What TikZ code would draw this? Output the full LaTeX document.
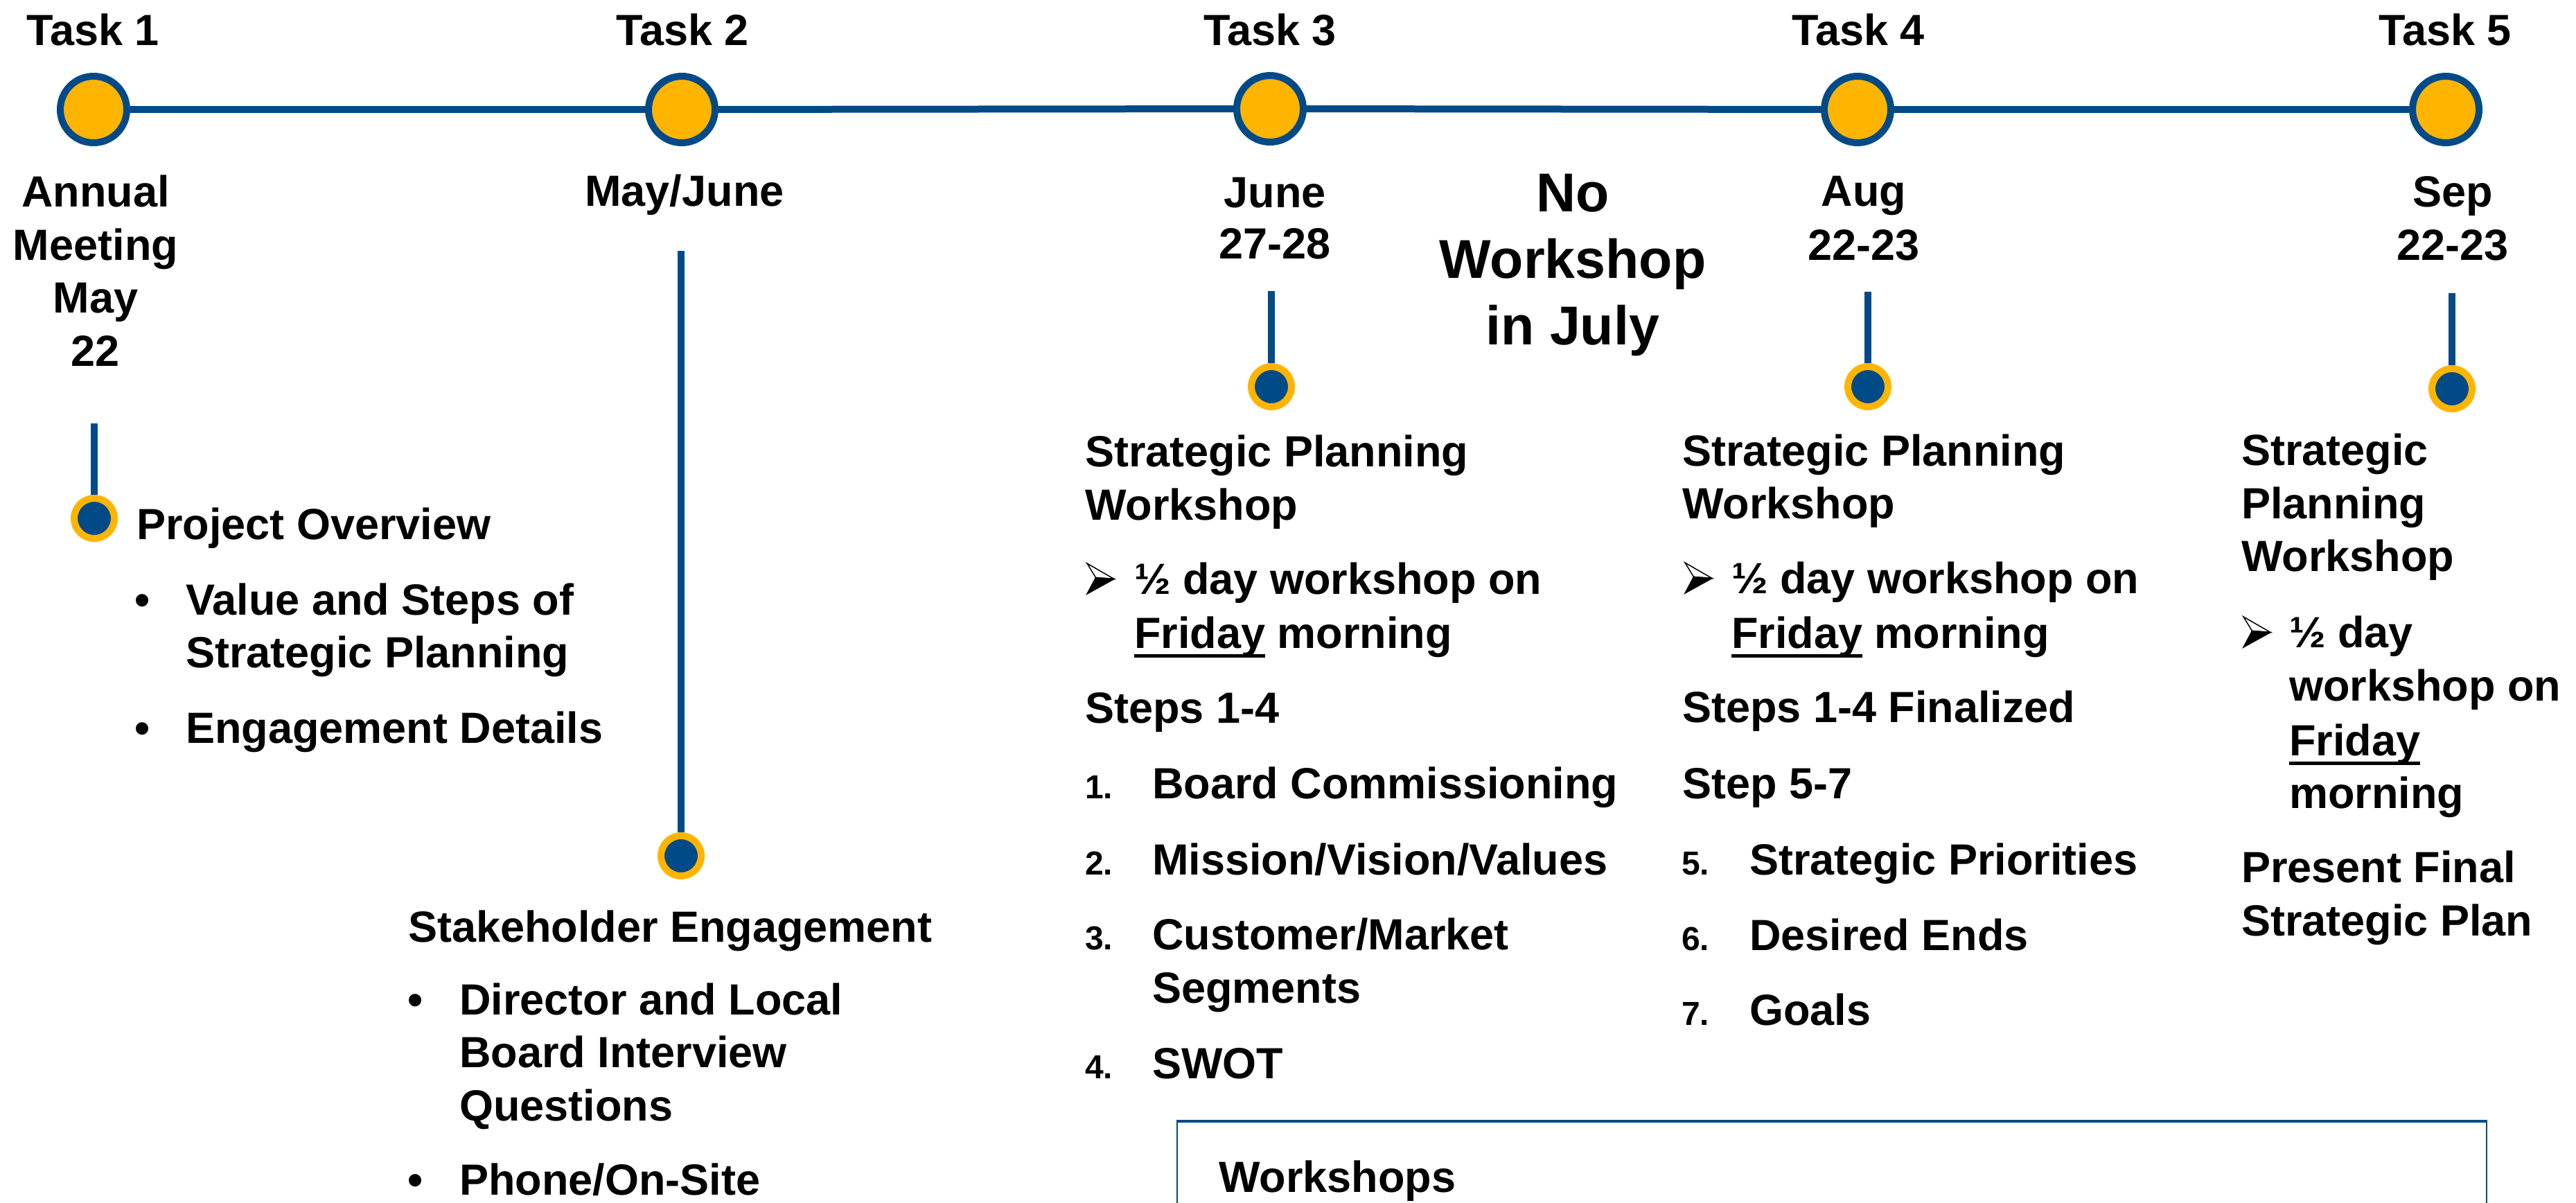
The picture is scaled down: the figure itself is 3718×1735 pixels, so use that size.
\documentclass[tikz,border=0pt]{standalone}
\usepackage{fontspec}
\setmainfont{Liberation Sans}
\definecolor{tlblue}{RGB}{0,74,135}
\definecolor{tlgold}{RGB}{255,181,0}
\newcommand\myul[1]{{\setbox0\hbox{#1}\rlap{\vrule width\wd0 height -9pt depth 14pt}\box0}}
\begin{document}
\begin{tikzpicture}[x=1pt,y=-1pt,
  txt/.style={anchor=base west, inner sep=0pt, font=\fontsize{63}{76}\selectfont\bfseries},
  ctxt/.style={anchor=base, inner sep=0pt, font=\fontsize{63}{76}\selectfont\bfseries},
  bigtxt/.style={anchor=base, inner sep=0pt, font=\fontsize{79}{96}\selectfont\bfseries},
  numtxt/.style={anchor=base west, inner sep=0pt, font=\fontsize{48}{58}\selectfont\bfseries},
  taskdot/.style={circle, draw=tlblue, fill=tlgold, line width=10pt, minimum size=96pt, inner sep=0pt},
  subdot/.style={circle, draw=tlgold, fill=tlblue, line width=10pt, minimum size=58pt, inner sep=0pt},
  tline/.style={draw=tlblue, line width=10pt},
  arrbullet/.pic={
    \filldraw[fill=white, draw=black, line width=1.5pt, line join=miter] (0,-44) -- (39,-21.5) -- (12.5,-23.5) -- cycle;
    \filldraw[fill=black, draw=black, line width=1.5pt, line join=miter] (12.5,-23.5) -- (39,-21.5) -- (0,0) -- cycle;
  },
]
\useasboundingbox (0,0) rectangle (3718,1735);
\clip (0,0) rectangle (3718,1735);

% main timeline
\node[taskdot] (t1) at (135,158) {};
\node[taskdot] (t2) at (984,158) {};
\node[taskdot] (t3) at (1833,157) {};
\node[taskdot] (t4) at (2681,158) {};
\node[taskdot] (t5) at (3530,158) {};
\draw[tline] (t1) -- (t2);
\draw[tline] (t2) -- (t3);
\draw[tline] (t3) -- (t4);
\draw[tline] (t4) -- (t5);

% task labels
\node[ctxt] (l1) at (134,65) {Task 1};
\node[ctxt] (l2) at (985,65) {Task 2};
\node[ctxt] (l3) at (1833,65) {Task 3};
\node[ctxt] (l4) at (2682,65) {Task 4};
\node[ctxt] (l5) at (3529,65) {Task 5};

% date labels
\node[ctxt] (d1a) at (138,298) {Annual};
\node[ctxt] (d1b) at (138,375) {Meeting};
\node[ctxt] (d1c) at (138,451) {May};
\node[ctxt] (d1d) at (138,528) {22};
\node[ctxt] (d2a) at (988,297) {May/June};
\node[ctxt] (d3a) at (1840,299) {June};
\node[ctxt] (d3b) at (1840,373) {27-28};
\node[ctxt] (d4a) at (2690,297) {Aug};
\node[ctxt] (d4b) at (2690,375) {22-23};
\node[ctxt] (d5a) at (3540,298) {Sep};
\node[ctxt] (d5b) at (3540,375) {22-23};

% no workshop
\node[bigtxt] (nw1) at (2270,305) {No};
\node[bigtxt] (nw2) at (2270,401) {Workshop};
\node[bigtxt] (nw3) at (2270,497) {in July};

% stems and sub dots
\coordinate (k1) at (136,611);
\coordinate (k2) at (983,362);
\coordinate (k3) at (1835,420);
\coordinate (k4) at (2696,421);
\coordinate (k5) at (3539,423);
\node[subdot] (s1) at (136,748) {};
\node[subdot] (s2) at (983,1235) {};
\node[subdot] (s3) at (1835,558) {};
\node[subdot] (s4) at (2696,558) {};
\node[subdot] (s5) at (3539,561) {};
\draw[tline] (k1) -- (s1);
\draw[tline] (k2) -- (s2);
\draw[tline] (k3) -- (s3);
\draw[tline] (k4) -- (s4);
\draw[tline] (k5) -- (s5);

% Task 1 text
\node[txt] (p1) at (197,778) {Project Overview};
\node[txt] (p1b1) at (194,887) {•};
\node[txt] (p1i1) at (268,887) {Value and Steps of};
\node[txt] (p1i1b) at (268,963) {Strategic Planning};
\node[txt] (p1b2) at (194,1072) {•};
\node[txt] (p1i2) at (268,1072) {Engagement Details};

% Task 2 text
\node[txt] (p2) at (589,1359) {Stakeholder Engagement};
\node[txt] (p2b1) at (588,1464) {•};
\node[txt] (p2i1) at (663,1464) {Director and Local};
\node[txt] (p2i1b) at (663,1540) {Board Interview};
\node[txt] (p2i1c) at (663,1617) {Questions};
\node[txt] (p2b2) at (588,1724) {•};
\node[txt] (p2i2) at (663,1724) {Phone/On-Site};

% Task 3 text
\node[txt] (p3a) at (1566,673) {Strategic Planning};
\node[txt] (p3b) at (1566,750) {Workshop};
\pic at (1569,857) {arrbullet};
\node[txt] (p3c) at (1637,857) {½ day workshop on};
\node[txt] (p3d) at (1637,935) {\myul{Friday} morning};
\node[txt] (p3e) at (1566,1043) {Steps 1-4};
\node[numtxt] (p3n1) at (1566,1152) {1.};
\node[txt] (p3i1) at (1663,1152) {Board Commissioning};
\node[numtxt] (p3n2) at (1566,1262) {2.};
\node[txt] (p3i2) at (1663,1262) {Mission/Vision/Values};
\node[numtxt] (p3n3) at (1566,1370) {3.};
\node[txt] (p3i3) at (1663,1370) {Customer/Market};
\node[txt] (p3i3b) at (1663,1447) {Segments};
\node[numtxt] (p3n4) at (1566,1556) {4.};
\node[txt] (p3i4) at (1663,1556) {SWOT};

% Task 4 text
\node[txt] (p4a) at (2428,672) {Strategic Planning};
\node[txt] (p4b) at (2428,748) {Workshop};
\pic at (2432,856) {arrbullet};
\node[txt] (p4c) at (2499,856) {½ day workshop on};
\node[txt] (p4d) at (2499,935) {\myul{Friday} morning};
\node[txt] (p4e) at (2428,1042) {Steps 1-4 Finalized};
\node[txt] (p4f) at (2428,1152) {Step 5-7};
\node[numtxt] (p4n5) at (2427,1262) {5.};
\node[txt] (p4i5) at (2525,1262) {Strategic Priorities};
\node[numtxt] (p4n6) at (2427,1371) {6.};
\node[txt] (p4i6) at (2525,1371) {Desired Ends};
\node[numtxt] (p4n7) at (2427,1479) {7.};
\node[txt] (p4i7) at (2525,1479) {Goals};

% Task 5 text
\node[txt] (p5a) at (3235,671) {Strategic};
\node[txt] (p5b) at (3235,748) {Planning};
\node[txt] (p5c) at (3235,824) {Workshop};
\pic at (3238,934) {arrbullet};
\node[txt] (p5d) at (3304,934) {½ day};
\node[txt] (p5e) at (3304,1011) {workshop on};
\node[txt] (p5f) at (3304,1090) {\myul{Friday}};
\node[txt] (p5g) at (3304,1166) {morning};
\node[txt] (p5h) at (3235,1273) {Present Final};
\node[txt] (p5i) at (3235,1350) {Strategic Plan};

% Workshops box
\node[draw=tlblue, line width=2pt, anchor=north west, minimum width=1890pt, minimum height=300pt, inner sep=0pt] (wbox) at (1698,1618) {};
\draw[tlblue, line width=4pt] (wbox.north west) -- (wbox.north east);
\node[txt] (wtitle) at (1759,1720) {Workshops};
\end{tikzpicture}
\end{document}
